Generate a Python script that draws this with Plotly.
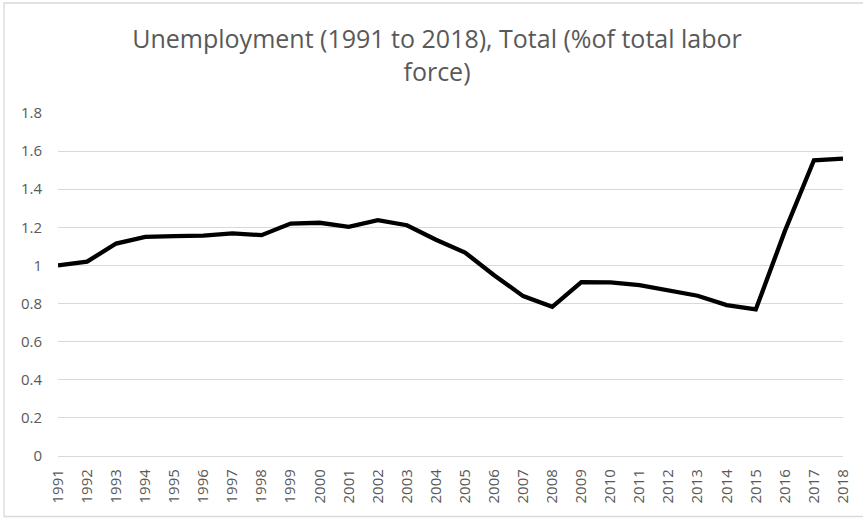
import plotly.graph_objects as go

years = [str(y) for y in range(1991, 2019)]
unemployment = [1.00, 1.02, 1.115, 1.15, 1.154, 1.157, 1.168, 1.159, 1.22, 1.224,
                1.203, 1.238, 1.211, 1.135, 1.068, 0.949, 0.839, 0.783, 0.912, 0.911,
                0.897, 0.870, 0.841, 0.792, 0.769, 1.18, 1.552, 1.561]
y_ticks = [0, 0.2, 0.4, 0.6, 0.8, 1.0, 1.2, 1.4, 1.6, 1.8]
y_tick_labels = ["0", "0.2", "0.4", "0.6", "0.8", "1", "1.2", "1.4", "1.6", "1.8"]
title_text = "Unemployment (1991 to 2018), Total (%of total labor<br>force)"

W, H = 863, 518
L, R, T, B = 58, 20, 113, 62
pw, ph = W - L - R, H - T - B

fig = go.Figure()
fig.add_trace(go.Scatter(x=years, y=unemployment, mode="lines",
                         line=dict(color="#000000", width=4.3), hoverinfo="x+y"))

font_family = "Open Sans"
gray = "#595959"

def px_x(x):
    return (x - L) / pw

def px_y(y):
    return (H - B - y) / ph

fig.update_layout(
    width=W, height=H,
    margin=dict(l=L, r=R, t=T, b=B, autoexpand=False),
    paper_bgcolor="white", plot_bgcolor="white",
    showlegend=False,
    font=dict(family=font_family, color=gray),
    title=dict(text=title_text, x=px_x(437), xanchor="center", xref="paper",
               y=1 - 48 / H, yanchor="top", yref="container",
               font=dict(size=25, color=gray, family=font_family)),
    xaxis=dict(type="category", tickangle=-90, showgrid=False,
               showline=True, linecolor="#d9d9d9", linewidth=1.3,
               ticks="outside", ticklen=6, tickcolor="rgba(0,0,0,0)",
               tickfont=dict(size=15, color=gray), fixedrange=True),
    yaxis=dict(range=[0, 1.8], tickvals=y_ticks, ticktext=y_tick_labels,
               showgrid=True, gridcolor="#d9d9d9", gridwidth=1.3,
               zeroline=False, showline=False, ticks="",
               tickfont=dict(size=15, color=gray), ticklabelstandoff=15,
               fixedrange=True),
    shapes=[dict(type="rect", xref="paper", yref="paper",
                 x0=px_x(4), x1=px_x(868), y0=px_y(516.5), y1=px_y(3),
                 line=dict(color="#d9d9d9", width=1.3), fillcolor="rgba(0,0,0,0)",
                 layer="above")],
)

fig.write_html("out.html", config={"displayModeBar": False},
               post_script="document.body.style.margin='0';document.body.style.overflow='hidden';")
